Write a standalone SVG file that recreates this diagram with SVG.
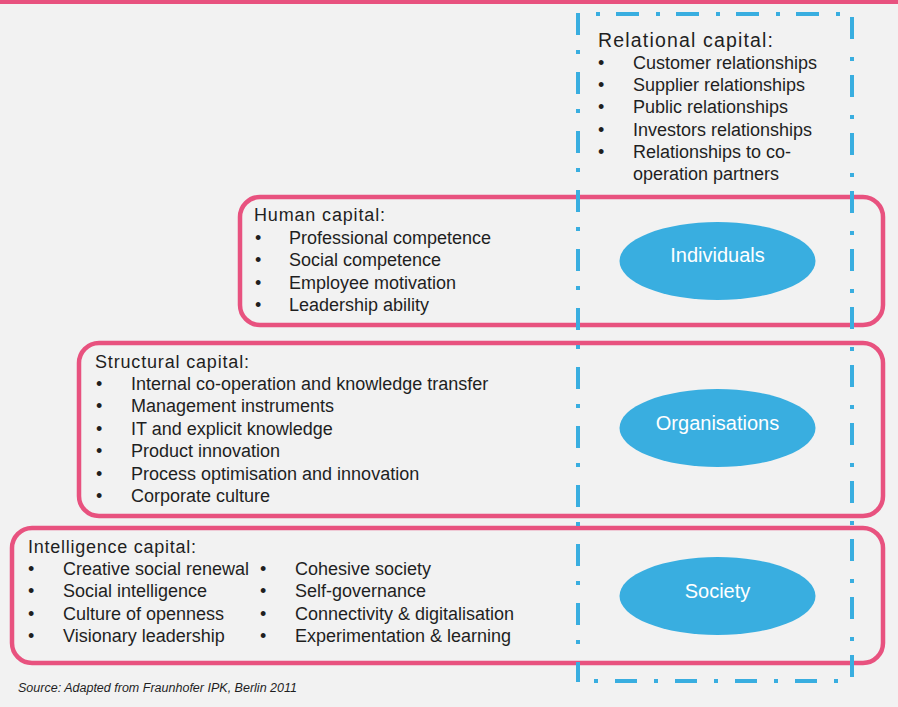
<svg xmlns="http://www.w3.org/2000/svg" width="898" height="707" viewBox="0 0 898 707">
<style>
.bg{fill:#f2f2f2}
.box{fill:none;stroke:#e8527f;stroke-width:4.5}
.ell{fill:#39aee0}
.t{font-family:"Liberation Sans",Arial,sans-serif;font-size:18px;fill:#1f1f1f}
.h{font-family:"Liberation Sans",Arial,sans-serif;font-size:18px;fill:#1f1f1f}
.e{font-family:"Liberation Sans",Arial,sans-serif;font-size:20px;fill:#ffffff;text-anchor:middle}
.src{font-family:"Liberation Sans",Arial,sans-serif;font-size:12px;font-style:italic;fill:#1f1f1f}
.dash{fill:none;stroke:#39aee0;stroke-width:4}
</style>
<rect class="bg" x="0" y="0" width="898" height="707"/>
<rect x="0" y="0" width="898" height="4" fill="#e8527f"/>

<g id="human-capital">
<rect class="box" x="240" y="197" width="643" height="128" rx="20"/>
<text class="h" x="254" y="221" textLength="131" lengthAdjust="spacing">Human capital:</text>
<text class="t" x="255" y="244">•</text><text class="t" x="289" y="244">Professional competence</text>
<text class="t" x="255" y="266">•</text><text class="t" x="289" y="266">Social competence</text>
<text class="t" x="255" y="289">•</text><text class="t" x="289" y="289">Employee motivation</text>
<text class="t" x="255" y="311">•</text><text class="t" x="289" y="311">Leadership ability</text>
</g>

<g id="structural-capital">
<rect class="box" x="79" y="343" width="804" height="173" rx="20"/>
<text class="h" x="95" y="368" textLength="154" lengthAdjust="spacing">Structural capital:</text>
<text class="t" x="96" y="390">•</text><text class="t" x="131" y="390">Internal co-operation and knowledge transfer</text>
<text class="t" x="96" y="412">•</text><text class="t" x="131" y="412">Management instruments</text>
<text class="t" x="96" y="435">•</text><text class="t" x="131" y="435">IT and explicit knowledge</text>
<text class="t" x="96" y="457">•</text><text class="t" x="131" y="457">Product innovation</text>
<text class="t" x="96" y="480">•</text><text class="t" x="131" y="480">Process optimisation and innovation</text>
<text class="t" x="96" y="502">•</text><text class="t" x="131" y="502">Corporate culture</text>
</g>

<g id="intelligence-capital">
<rect class="box" x="12" y="528" width="871" height="135" rx="20"/>
<text class="h" x="28" y="553" textLength="168" lengthAdjust="spacing">Intelligence capital:</text>
<text class="t" x="28" y="575">•</text><text class="t" x="63" y="575">Creative social renewal</text>
<text class="t" x="28" y="597">•</text><text class="t" x="63" y="597">Social intelligence</text>
<text class="t" x="28" y="620">•</text><text class="t" x="63" y="620">Culture of openness</text>
<text class="t" x="28" y="642">•</text><text class="t" x="63" y="642">Visionary leadership</text>
<text class="t" x="260" y="575">•</text><text class="t" x="295" y="575">Cohesive society</text>
<text class="t" x="260" y="597">•</text><text class="t" x="295" y="597">Self-governance</text>
<text class="t" x="260" y="620">•</text><text class="t" x="295" y="620">Connectivity &amp; digitalisation</text>
<text class="t" x="260" y="642">•</text><text class="t" x="295" y="642">Experimentation &amp; learning</text>
</g>

<g id="relational-capital">
<text class="h" x="598" y="47" style="font-size:19.5px" textLength="175" lengthAdjust="spacing">Relational capital:</text>
<text class="t" x="598" y="69">•</text><text class="t" x="633" y="69">Customer relationships</text>
<text class="t" x="598" y="91">•</text><text class="t" x="633" y="91">Supplier relationships</text>
<text class="t" x="598" y="113">•</text><text class="t" x="633" y="113">Public relationships</text>
<text class="t" x="598" y="136">•</text><text class="t" x="633" y="136">Investors relationships</text>
<text class="t" x="598" y="158">•</text><text class="t" x="633" y="158">Relationships to co-</text>
<text class="t" x="633" y="180">operation partners</text>
<line class="dash" x1="578" y1="13" x2="578" y2="682" stroke-dasharray="22 15 4 18"/>
<line class="dash" x1="852" y1="17" x2="852" y2="682" stroke-dasharray="22 18 4 14"/>
<line class="dash" x1="596" y1="14" x2="840" y2="14" stroke-dasharray="4 16 23 17"/>
<line class="dash" x1="594" y1="681" x2="840" y2="681" stroke-dasharray="4 17 22 17"/>
</g>

<g id="individuals">
<ellipse class="ell" cx="717.5" cy="261" rx="98" ry="39"/>
<text class="e" x="717.5" y="262">Individuals</text>
</g>
<g id="organisations">
<ellipse class="ell" cx="717.5" cy="428" rx="98" ry="39"/>
<text class="e" x="717.5" y="430">Organisations</text>
</g>
<g id="society">
<ellipse class="ell" cx="717.5" cy="596" rx="98" ry="39"/>
<text class="e" x="717.5" y="598">Society</text>
</g>

<g id="connectors"></g>

<text class="src" x="18" y="692" textLength="279" lengthAdjust="spacingAndGlyphs">Source: Adapted from Fraunhofer IPK, Berlin 2011</text>
</svg>
